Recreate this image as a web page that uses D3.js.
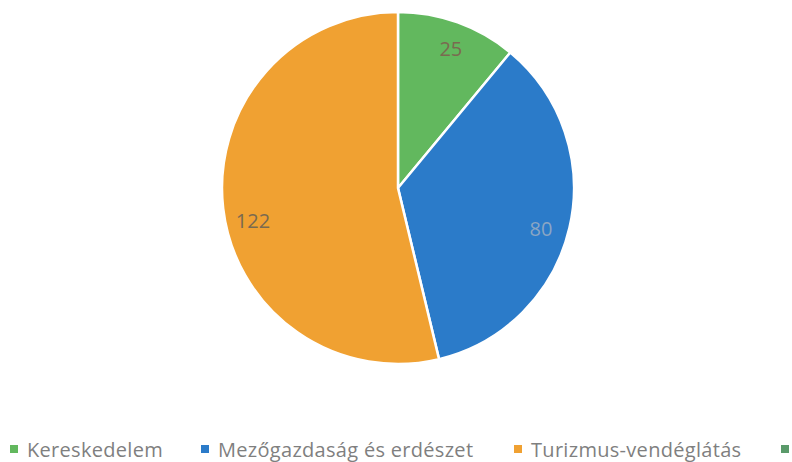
<!DOCTYPE html>
<html><head><meta charset="utf-8">
<script src="https://cdn.jsdelivr.net/npm/d3@7"></script>
<style>body{margin:0;background:#fff}svg{display:block}</style>
</head><body>
<script>
const categories = ["Kereskedelem", "Mezőgazdaság és erdészet", "Turizmus-vendéglátás"];
const values = [25, 80, 122];
const colors = ["#62b85e", "#2b7bc9", "#f0a132"];
const extraLegendColor = "#5a9a6a";

const W = 792, H = 462;
const svg = d3.select("body").append("svg").attr("width", W).attr("height", H);
const cx = 398, cy = 188, R = 176;
const data = categories.map((c, i) => ({name: c, value: values[i], color: colors[i]}));
const pie = d3.pie().value(d => d.value).sort(null);
const arc = d3.arc().innerRadius(0).outerRadius(R);
const labelShift = [1, 3, -6].map(v => v * Math.PI / 180);
const g = svg.append("g").attr("transform", `translate(${cx},${cy})`);
const arcs = pie(data);
g.selectAll("path").data(arcs).join("path")
  .attr("d", arc).attr("fill", d => d.data.color)
  .attr("stroke", "#fff").attr("stroke-width", 2.5);
g.selectAll("text").data(arcs).join("text")
  .attr("transform", (d, i) => {
    const a = (d.startAngle + d.endAngle) / 2 + labelShift[i];
    const r = R * 0.845;
    return `translate(${r * Math.sin(a)},${-r * Math.cos(a)})`;
  })
  .attr("text-anchor", "middle").attr("dy", "0.35em")
  .attr("font-family", "'Open Sans', sans-serif").attr("font-size", 20)
  .attr("fill", (d, i) => i === 1 ? "#8aa6c4" : "#7a6a50")
  .text(d => d.data.value);

const legX = [10, 201, 514];
const leg = svg.append("g");
data.forEach((d, i) => {
  leg.append("rect").attr("x", legX[i]).attr("y", 445).attr("width", 8).attr("height", 8).attr("fill", d.color);
  leg.append("text").attr("x", legX[i] + 17).attr("y", 457)
    .attr("font-family", "'Open Sans', sans-serif").attr("font-size", 20)
    .attr("letter-spacing", 0.3)
    .attr("fill", "#7f7f7f").text(d.name);
});
leg.append("rect").attr("x", 781).attr("y", 445).attr("width", 8).attr("height", 8).attr("fill", extraLegendColor);
</script>
</body></html>
